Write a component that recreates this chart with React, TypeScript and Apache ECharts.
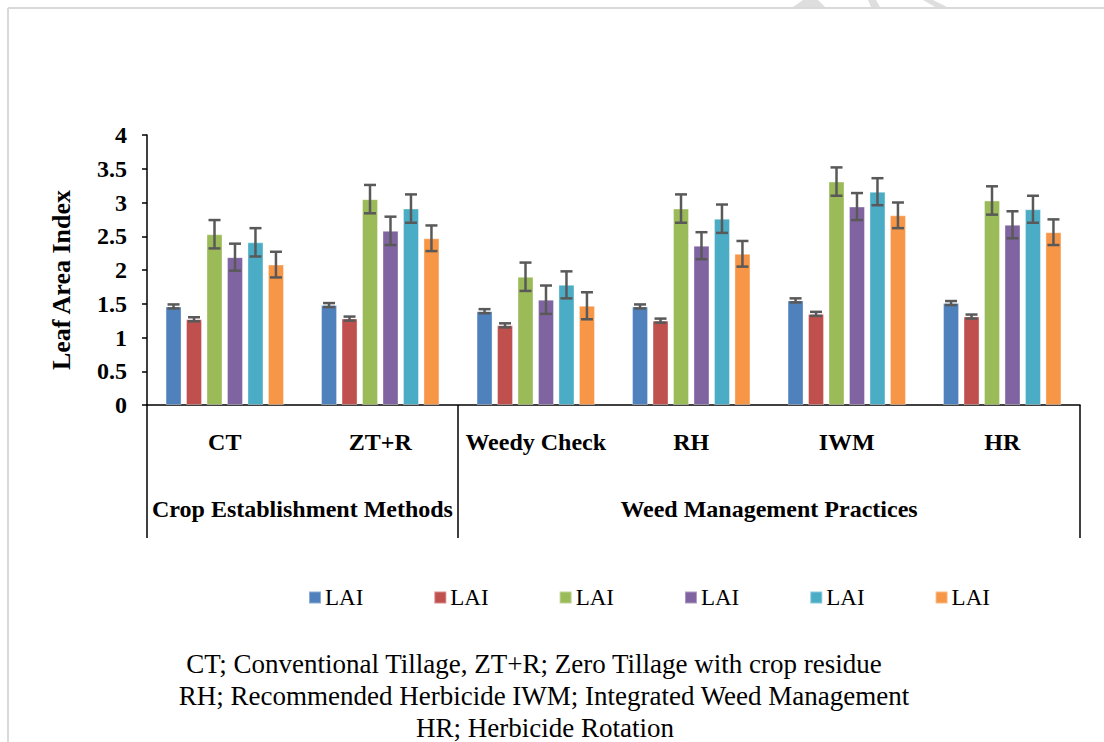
import React, { useEffect, useRef } from "react";
import * as echarts from "echarts";

const categories = ["CT", "ZT+R", "Weedy Check", "RH", "IWM", "HR"];
const seriesNames = ["LAI-1", "LAI-2", "LAI-3", "LAI-4", "LAI-5", "LAI-6"];
const legendLabel = "LAI";
const colors = ["#4F81BD", "#C0504D", "#9BBB59", "#8064A2", "#4BACC6", "#F79646"];

const lai1 = [1.46, 1.48, 1.39, 1.46, 1.55, 1.51];
const lai2 = [1.27, 1.28, 1.18, 1.25, 1.35, 1.31];
const lai3 = [2.53, 3.05, 1.9, 2.91, 3.31, 3.03];
const lai4 = [2.19, 2.58, 1.56, 2.36, 2.94, 2.67];
const lai5 = [2.41, 2.91, 1.78, 2.76, 3.16, 2.9];
const lai6 = [2.08, 2.47, 1.47, 2.24, 2.81, 2.56];

const err1 = [0.03, 0.03, 0.03, 0.03, 0.03, 0.03];
const err2 = [0.03, 0.03, 0.03, 0.03, 0.03, 0.03];
const err3 = [0.21, 0.21, 0.21, 0.21, 0.21, 0.21];
const err4 = [0.2, 0.21, 0.21, 0.2, 0.2, 0.2];
const err5 = [0.21, 0.21, 0.2, 0.21, 0.2, 0.2];
const err6 = [0.19, 0.19, 0.2, 0.19, 0.19, 0.19];

const yTicks = { min: 0, max: 4, interval: 0.5 };
const yTitle = "Leaf Area Index";

const groupLabels = ["Crop Establishment Methods", "Weed Management Practices"];
const footnotes = [
  "CT; Conventional Tillage, ZT+R; Zero Tillage with crop residue",
  "RH; Recommended Herbicide IWM; Integrated Weed Management",
  "HR; Herbicide Rotation",
];

const SERIF = "'Liberation Serif', 'Times New Roman', serif";

export default function App() {
  const ref = useRef<HTMLDivElement>(null);
  useEffect(() => {
    if (!ref.current) return;
    const chart = echarts.init(ref.current, null, { renderer: "svg" });
    const values = [lai1, lai2, lai3, lai4, lai5, lai6];
    const errs = [err1, err2, err3, err4, err5, err6];
    const barWidth = 16;
    const gapRatio = 0.28;
    const step = barWidth * (1 + gapRatio);

    const gridLeft = 147;
    const gridRight = 1080;
    const gridTop = 135;
    const gridBottomY = 405;
    const catW = (gridRight - gridLeft) / categories.length;
    const sepBottom = 538;

    const barSeries = values.map((v, i) => ({
      name: seriesNames[i],
      type: "bar",
      data: v,
      barWidth,
      barGap: gapRatio * 100 + "%",
      itemStyle: { color: colors[i], borderColor: "rgba(255,255,255,0.35)", borderWidth: 1 },
    }));

    const errSeries = values.map((v, i) => ({
      name: "err" + i,
      type: "custom",
      z: 10,
      data: v.map((val, k) => [k, val, errs[i][k]]),
      renderItem: (params: any, api: any) => {
        const x = api.value(0);
        const val = api.value(1);
        const e = api.value(2);
        const top = api.coord([x, val + e]);
        const bot = api.coord([x, val - e]);
        const cx = top[0] + (i - 2.5) * step;
        const cap = 6;
        const style = { stroke: "#595959", lineWidth: 2.5 };
        return {
          type: "group",
          children: [
            { type: "line", shape: { x1: cx, y1: top[1], x2: cx, y2: bot[1] }, style },
            { type: "line", shape: { x1: cx - cap, y1: top[1], x2: cx + cap, y2: top[1] }, style },
            { type: "line", shape: { x1: cx - cap, y1: bot[1], x2: cx + cap, y2: bot[1] }, style },
          ],
        };
      },
    }));

    const sepXs = [gridLeft, gridLeft + 2 * catW, gridRight];
    const graphics: any[] = [
      { type: "line", shape: { x1: 8, y1: 8, x2: 1104, y2: 8 }, style: { stroke: "#d9d9d9", lineWidth: 2 } },
      { type: "line", shape: { x1: 8, y1: 8, x2: 8, y2: 742 }, style: { stroke: "#d9d9d9", lineWidth: 2 } },
      { type: "polygon", shape: { points: [[793, 7], [803, 0], [818, 0], [825, 7]] }, style: { fill: "#dedede" } },
      { type: "polygon", shape: { points: [[868, 0], [876, 0], [880, 7], [871, 7]] }, style: { fill: "#dedede" } },
      { type: "polygon", shape: { points: [[923, 0], [933, 0], [947, 7], [935, 7]] }, style: { fill: "#dedede" } },
      ...sepXs.map((x) => ({
        type: "line",
        shape: { x1: x, y1: gridBottomY, x2: x, y2: sepBottom },
        style: { stroke: "#000", lineWidth: 1.5 },
      })),
      {
        type: "text",
        x: 61,
        y: 280,
        rotation: Math.PI / 2,
        style: { text: yTitle, fontFamily: SERIF, fontWeight: "bold", fontSize: 26, fill: "#000", align: "center", verticalAlign: "middle" },
      },
      {
        type: "text",
        x: (sepXs[0] + sepXs[1]) / 2,
        y: 509,
        style: { text: groupLabels[0], fontFamily: SERIF, fontWeight: "bold", fontSize: 24, fill: "#000", align: "center", verticalAlign: "middle" },
      },
      {
        type: "text",
        x: (sepXs[1] + sepXs[2]) / 2,
        y: 509,
        style: { text: groupLabels[1], fontFamily: SERIF, fontWeight: "bold", fontSize: 24, fill: "#000", align: "center", verticalAlign: "middle" },
      },
      ...footnotes.map((t, k) => ({
        type: "text",
        x: [534, 544, 545][k],
        y: [664, 696, 728][k],
        style: { text: t, fontFamily: SERIF, fontSize: 27, fill: "#000", align: "center", verticalAlign: "middle" },
      })),
    ];

    chart.setOption({
      animation: false,
      backgroundColor: "#fff",
      grid: { left: gridLeft, right: 1104 - gridRight, top: gridTop, bottom: 742 - gridBottomY, containLabel: false },
      legend: {
        data: seriesNames,
        left: 308,
        top: 586,
        padding: 0,
        icon: "rect",
        itemWidth: 12,
        itemHeight: 12,
        itemGap: 70,
        formatter: () => legendLabel,
        textStyle: { fontFamily: SERIF, fontSize: 23, color: "#000", padding: [0, 0, 0, -1] },
      },
      xAxis: {
        type: "category",
        data: categories,
        axisLine: { show: true, lineStyle: { color: "#000", width: 1.5 } },
        axisTick: { show: false },
        axisLabel: { interval: 0, fontFamily: SERIF, fontWeight: "bold", fontSize: 24, color: "#000", margin: 25 },
        splitLine: { show: false },
      },
      yAxis: {
        type: "value",
        min: yTicks.min,
        max: yTicks.max,
        interval: yTicks.interval,
        axisLine: { show: true, lineStyle: { color: "#000", width: 1.5 } },
        axisTick: { show: true, length: 5, lineStyle: { color: "#000", width: 1.5 } },
        axisLabel: { fontFamily: SERIF, fontWeight: "bold", fontSize: 24, color: "#000", margin: 20 },
        splitLine: { show: false },
      },
      series: [...barSeries, ...errSeries],
      graphic: graphics,
    });
    return () => chart.dispose();
  }, []);
  return <div ref={ref} style={{ width: 1104, height: 742, position: "absolute", left: 0, top: 0 }} />;
}
